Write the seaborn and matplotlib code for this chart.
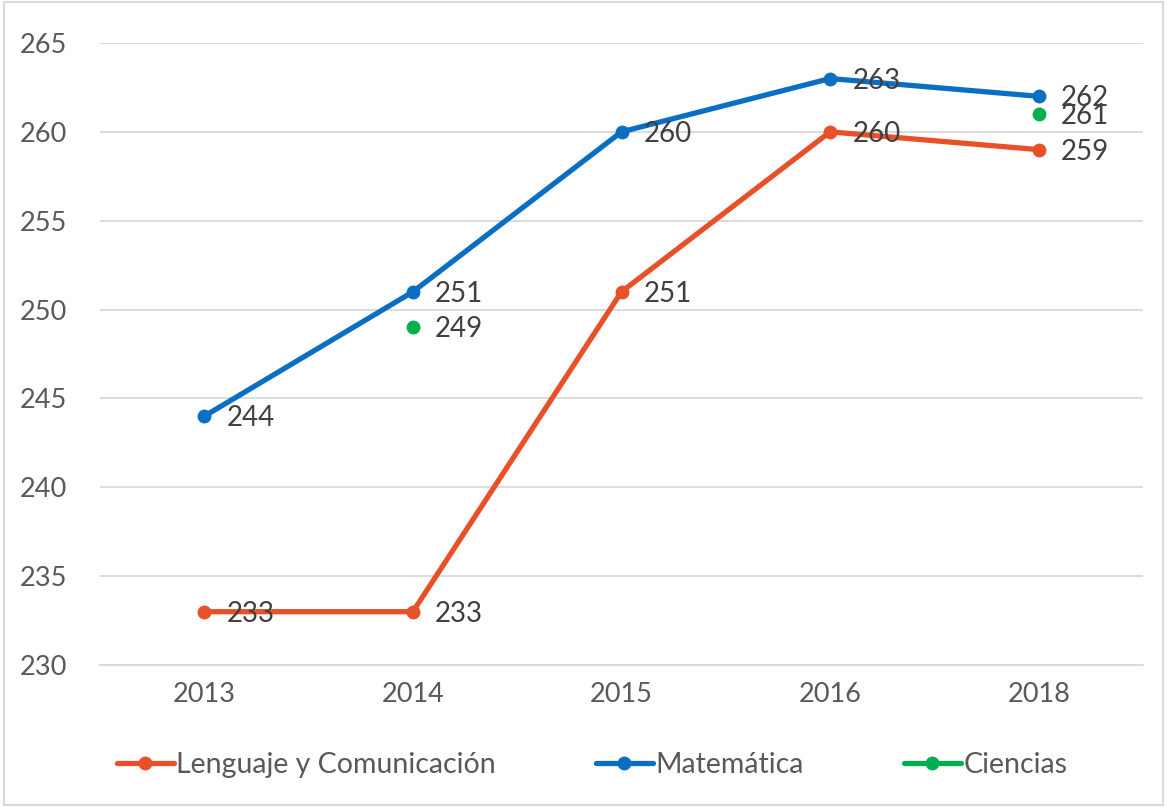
import matplotlib
matplotlib.use("Agg")
import matplotlib.pyplot as plt
import seaborn as sns
import pandas as pd
import numpy as np
from matplotlib.lines import Line2D
from matplotlib.patches import Rectangle

years = ["2013", "2014", "2015", "2016", "2018"]
lenguaje = [233, 233, 251, 260, 259]
matematica = [244, 251, 260, 263, 262]
ciencias = [np.nan, 249, np.nan, np.nan, 261]

series_names = ["Lenguaje y Comunicación", "Matemática", "Ciencias"]
colors = ["#E8502A", "#0A6FC2", "#00B050"]
yticks = [230, 235, 240, 245, 250, 255, 260, 265]

sns.set_theme(style="white")
plt.rcParams['font.family'] = ['Lato', 'DejaVu Sans']

fig = plt.figure(figsize=(11.67, 8.07), dpi=100)
ax = fig.add_axes([100/1167, 1-665/807, (1143-100)/1167, (665-43)/807])

xpos = list(range(len(years)))
df = pd.DataFrame({"x": xpos, "Lenguaje": lenguaje, "Matematica": matematica, "Ciencias": ciencias})

sns.lineplot(data=df, x="x", y="Lenguaje", ax=ax, color=colors[0], lw=3.8,
             marker="o", markersize=10, markeredgewidth=0, legend=False)
sns.lineplot(data=df, x="x", y="Matematica", ax=ax, color=colors[1], lw=3.8,
             marker="o", markersize=10, markeredgewidth=0, legend=False)
dfc = df.dropna(subset=["Ciencias"])
sns.scatterplot(data=dfc, x="x", y="Ciencias", ax=ax, color=colors[2], s=100,
                linewidth=0, legend=False, zorder=3)

for vals in (lenguaje, matematica, ciencias):
    for xi, v in zip(xpos, vals):
        if np.isnan(v):
            continue
        ax.annotate(f"{int(v)}", (xi, v), xytext=(16, -1.5), textcoords="offset points",
                    ha="left", va="center", fontsize=20, color="#404040", zorder=5)

ax.set_xlim(-0.5, len(years) - 0.5)
ax.set_ylim(230, 265)
ax.set_yticks(yticks)
ax.set_yticklabels([str(t) for t in yticks], fontsize=19.5, color="#595959")
ax.set_xticks(xpos)
ax.set_xticklabels(years, fontsize=19.5, color="#595959")
ax.tick_params(axis="both", length=0, pad=12)
ax.tick_params(axis="y", pad=24)
ax.grid(axis="y", color="#D9D9D9", lw=1.3)
ax.set_axisbelow(True)
for s in ["left", "right", "top"]:
    ax.spines[s].set_visible(False)
ax.spines["bottom"].set_color("#D9D9D9")
ax.spines["bottom"].set_linewidth(1.3)
ax.set_xlabel("")
ax.set_ylabel("")

handles = [Line2D([0], [0], color=c, lw=3.8, marker="o", markersize=10, markeredgewidth=0)
           for c in colors]
fig.legend(handles, series_names, loc="center", bbox_to_anchor=(592/1167, 1-765/807),
           ncol=3, frameon=False, fontsize=20.5, handlelength=2.0, handletextpad=0.1,
           columnspacing=3.5, labelcolor="#595959")

fig.patches.append(Rectangle((0.003, 0.003), 0.994, 0.994, transform=fig.transFigure,
                             fill=False, edgecolor="#D9D9D9", lw=1.5))

fig.savefig("out.png", dpi=100)
